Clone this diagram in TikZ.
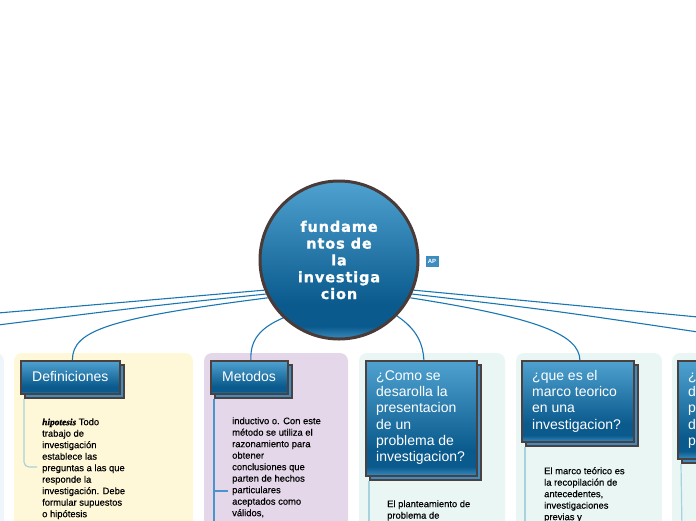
\documentclass[tikz,border=0pt]{standalone}
\usepackage{fontspec}
\setmainfont{Liberation Sans}
\newfontfamily\bodyfont{Liberation Sans}[FakeBold=0.4]
\newfontfamily\titlefont{Liberation Sans}
\newfontfamily\rootfont{DejaVu Sans}[FakeBold=1.2,LetterSpace=6]
\newfontfamily\hipfont{Liberation Serif}[FakeBold=1.2]
\usetikzlibrary{backgrounds}
\definecolor{connblue}{HTML}{1A76B2}
\definecolor{bord}{HTML}{4B4141}
\definecolor{rootbord}{HTML}{4A3B39}
\definecolor{btop}{HTML}{4FA2D0}
\definecolor{bdark}{HTML}{0A5A8D}
\definecolor{blow}{HTML}{3A8BBF}
\definecolor{shblue}{HTML}{3F8DC0}
\definecolor{pyellow}{HTML}{FFF8D8}
\definecolor{plav}{HTML}{E4D7E9}
\definecolor{pteal}{HTML}{E9F6F4}
\definecolor{pblue}{HTML}{EEF5FB}
\definecolor{vlight}{HTML}{A7D3DE}
\definecolor{vmid}{HTML}{4A94CC}
\pgfdeclareverticalshading{tbshade}{100bp}{color(0bp)=(blow); color(25bp)=(blow); color(29bp)=(bdark); color(36bp)=(bdark); color(75bp)=(btop); color(100bp)=(btop)}
\pgfdeclarelayer{panels}
\pgfdeclarelayer{links}
\pgfsetlayers{panels,links,main}
\begin{document}
\begin{tikzpicture}[x=1pt,y=-1pt,
  conn/.style={draw=connblue, line width=1.1pt},
  panel/.style={rounded corners=8pt},
  titlebox/.style={draw=bord, line width=1.8pt, shade, shading=tbshade, inner sep=0pt, anchor=north west},
  shadowbox/.style={draw=bord, line width=1.8pt, fill=shblue, inner sep=0pt, anchor=north west},
  titletext/.style={text=white, font={\titlefont\fontsize{14}{16.3}\selectfont}, align=left, inner sep=0pt, anchor=north west},
  bodytext/.style={text=black, font={\bodyfont\fontsize{9.4}{11.5}\selectfont}, align=left, inner sep=0pt, anchor=north west},
  vline/.style={line width=1.2pt}
]
\useasboundingbox (0,0) rectangle (696,520);
\clip (0,0) rectangle (696,520);

% root
\node[circle, draw=rootbord, line width=3pt, shade, shading=tbshade, minimum size=158pt, inner sep=0pt,
      text=white, align=center, font={\rootfont\bfseries\fontsize{14.5}{16.8}\selectfont}] (root) at (339,260)
      {fundame\\ntos de\\la\\investiga\\cion};
\node[draw=blow, fill=shblue, inner sep=0pt, minimum width=12pt, minimum height=10pt, text=white,
      font={\titlefont\bfseries\fontsize{6}{6}\selectfont}] (ap) at (432,261) {AP};

% panels
\begin{pgfonlayer}{panels}
\fill[panel, pblue] (-60,353) rectangle (4,560);
\fill[panel, pyellow] (14,353) rectangle (193,560);
\fill[panel, plav] (204,353) rectangle (348,560);
\fill[panel, pteal] (359,353) rectangle (505,560);
\fill[panel, pteal] (516,353) rectangle (662,560);
\fill[panel, pteal] (672,353) rectangle (780,560);
\end{pgfonlayer}

% title boxes
\node[shadowbox, minimum width=99pt, minimum height=33pt] (defsh) at (24,364) {};
\node[titlebox, minimum width=99pt, minimum height=33pt] (defbox) at (20,360) {};
\node[titletext] (deftxt) at (32,369.6) {\strut Definiciones};

\node[shadowbox, minimum width=77pt, minimum height=33pt] (metsh) at (214,364) {};
\node[titlebox, minimum width=77pt, minimum height=33pt] (metbox) at (210,360) {};
\node[titletext] (mettxt) at (222,369.6) {\strut Metodos};

\node[shadowbox, minimum width=111pt, minimum height=115pt] (comsh) at (369,364) {};
\node[titlebox, minimum width=111pt, minimum height=115pt] (combox) at (365,360) {};
\node[titletext] (comtxt) at (376,368.6) {\strut ¿Como se\\desarolla la\\presentacion\\de un\\problema de\\investigacion?};

\node[shadowbox, minimum width=112pt, minimum height=81pt] (quesh) at (525,364) {};
\node[titlebox, minimum width=112pt, minimum height=81pt] (quebox) at (521,360) {};
\node[titletext] (quetxt) at (532,368.6) {\strut ¿que es el\\marco teorico\\en una\\investigacion?};

\node[shadowbox, minimum width=112pt, minimum height=98pt] (rsh) at (681,364) {};
\node[titlebox, minimum width=112pt, minimum height=98pt] (rbox) at (677,360) {};
\node[titletext] (rtxt) at (688,368.6) {\strut ¿cuales son\\diferentes\\partes del\\diseño de\\proyecto?};

% body texts
\node[bodytext] (deftext) at (42,416.9) {\strut{\hipfont\bfseries\itshape hipotesis} Todo\\trabajo de\\investigación\\establece las\\preguntas a las que\\responde la\\investigación. Debe\\formular supuestos\\o hipótesis};
\node[bodytext] (metext) at (232,415.9) {\strut inductivo o. Con este\\método se utiliza el\\razonamiento para\\obtener\\conclusiones que\\parten de hechos\\particulares\\aceptados como\\válidos,};
\node[bodytext] (comtext) at (387,498.9) {\strut El planteamiento de\\problema de};
\node[bodytext] (quetext) at (544,465.9) {\strut El marco teórico es\\la recopilación de\\antecedentes,\\investigaciones\\previas y};

% coordinates for free ends
\coordinate (offL1) at (-2,313);
\coordinate (offL2) at (-2,325);
\coordinate (offR1) at (698,317);
\coordinate (offR2) at (698,332);
\coordinate (defend) at (37,467);
\coordinate (metbot) at (214,530);
\coordinate (mettick) at (214,491);
\coordinate (metticke) at (228,491);
\coordinate (combot) at (369,530);
\coordinate (quebot) at (525,530);
\coordinate (rbot) at (682,530);

\begin{pgfonlayer}{links}
\draw[conn] (root.202) .. controls (150,300) .. (offL1);
\draw[conn] (root.205) .. controls (150,306) .. (offL2);
\draw[conn] (root.208) .. controls (110,318) and ([xshift=2pt]defbox.north |- 0,330) .. ([xshift=2pt]defbox.north);
\draw[conn] (root.226) .. controls (260,328) and (250,340) .. ([xshift=1.5pt]metbox.north);
\draw[conn] (root.338) .. controls (550,303) .. (offR1);
\draw[conn] (root.335) .. controls (550,310) .. (offR2);
\draw[conn] (root.332) .. controls (540,318) and (579,335) .. ([xshift=2pt]quebox.north);
\draw[conn] (root.316) .. controls (418,330) and (423,345) .. ([xshift=2.5pt]combox.north);

\draw[vline, vlight, rounded corners=5pt] (defsh.south west) |- (defend);
\draw[vline, vmid] (metsh.south west) -- (metbot);
\draw[vline, vmid] (mettick) -- (metticke);
\draw[vline, vlight] (comsh.south west) -- (combot);
\draw[vline, vlight] (quesh.south west) -- (quebot);
\draw[vline, vlight] (rsh.south west) -- (rbot);
\end{pgfonlayer}
\end{tikzpicture}
\end{document}
